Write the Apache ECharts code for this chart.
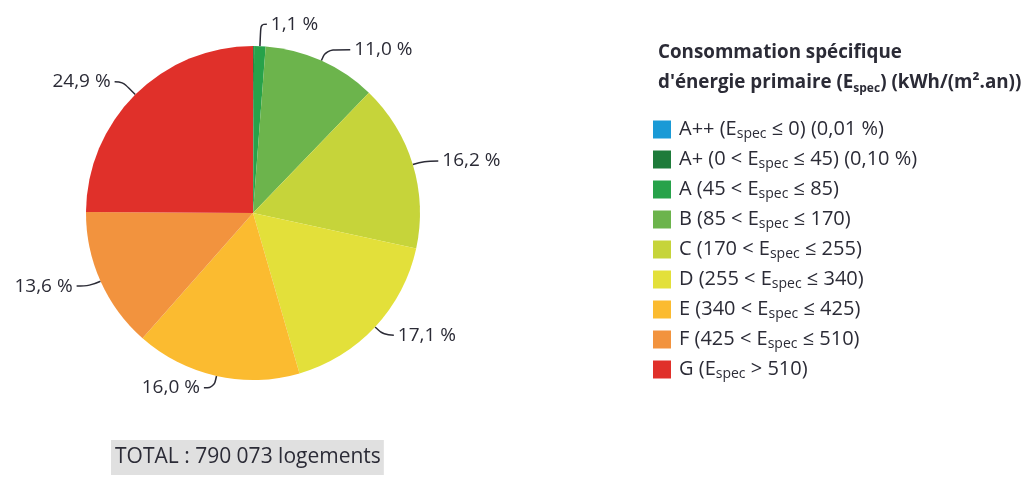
<!DOCTYPE html>
<html>
<head>
<meta charset="utf-8">
<script src="https://cdn.jsdelivr.net/npm/echarts@6/dist/echarts.min.js"></script>
<style>
  html, body { margin: 0; padding: 0; background: #fff; }
  #chart { width: 1024px; height: 492px; }
</style>
</head>
<body>
<div id="chart"></div>
<script>
// classes DPE et part des logements (%)
const categories = ['A++', 'A+', 'A', 'B', 'C', 'D', 'E', 'F', 'G'];
const shares = [0.01, 0.10, 1.1, 11.0, 16.2, 17.1, 16.0, 13.6, 24.9];
const legendLabels = [
  'A++ (E{sub|spec} ≤ 0) (0,01 %)',
  'A+ (0 < E{sub|spec} ≤ 45) (0,10 %)',
  'A (45 < E{sub|spec} ≤ 85)',
  'B (85 < E{sub|spec} ≤ 170)',
  'C (170 < E{sub|spec} ≤ 255)',
  'D (255 < E{sub|spec} ≤ 340)',
  'E (340 < E{sub|spec} ≤ 425)',
  'F (425 < E{sub|spec} ≤ 510)',
  'G (E{sub|spec} > 510)'
];
const colors = ['#1a9ad6', '#1e7b3a', '#27a24a', '#6cb44c', '#c6d43a', '#e3e03a', '#fbbb30', '#f2933e', '#e0302a'];
const totalText = 'TOTAL : 790 073 logements';

// longueurs des traits de rappel [radial, horizontal] par tranche
const leaderLengths = [null, null, [22, 6], [12, 24], [12, 14], [12, 10], [12, 10], [12, 13], [18, 8]];

const font = '"Open Sans", "DejaVu Sans", sans-serif';
const ink = '#2b2b36';

let myChart = echarts.init(document.getElementById('chart'));

const option = {
  animation: false,
  color: colors,
  title: [{
    left: 653,
    top: 33,
    text: 'Consommation spécifique\nd\'énergie primaire (E{sub|spec}) (kWh/(m².an))',
    textStyle: {
      fontFamily: font,
      fontSize: 18.8,
      fontWeight: 'bold',
      color: ink,
      lineHeight: 30,
      rich: {
        sub: { fontFamily: font, fontSize: 12, fontWeight: 'bold', color: ink, padding: [12, 0, 0, 0] }
      }
    }
  }, {
    left: 111,
    top: 440,
    text: totalText,
    backgroundColor: '#e0e0e0',
    padding: [7, 3, 7, 4],
    textStyle: { fontFamily: font, fontSize: 21, fontWeight: 'normal', color: ink }
  }],
  legend: {
    orient: 'vertical',
    left: 648,
    top: 113,
    icon: 'rect',
    itemWidth: 18,
    itemHeight: 18,
    itemGap: 7,
    selectedMode: false,
    data: categories,
    formatter: function (name) {
      return legendLabels[categories.indexOf(name)];
    },
    textStyle: {
      fontFamily: font,
      fontSize: 20,
      lineHeight: 20,
      color: ink,
      padding: [0, 0, 0, 3],
      rich: {
        sub: { fontFamily: font, fontSize: 14, lineHeight: 20, color: ink, padding: [9, 0, 0, 0] }
      }
    }
  },
  series: [{
    type: 'pie',
    center: [253, 213],
    radius: 167,
    startAngle: 90,
    clockwise: true,
    avoidLabelOverlap: false,
    emphasis: { disabled: true },
    itemStyle: { borderWidth: 0 },
    label: {
      fontFamily: font,
      fontSize: 19,
      color: ink,
      distanceToLabelLine: 4,
      formatter: function (p) {
        return p.value.toFixed(1).replace('.', ',') + ' %';
      }
    },
    labelLine: {
      length: 12,
      length2: 10,
      smooth: 0.4,
      lineStyle: { color: ink, width: 1.5 }
    },
    data: categories.map(function (c, i) {
      const d = { name: c, value: shares[i] };
      if (!leaderLengths[i]) {
        d.label = { show: false };
        d.labelLine = { show: false };
      } else {
        d.labelLine = { length: leaderLengths[i][0], length2: leaderLengths[i][1] };
      }
      return d;
    })
  }]
};

myChart.setOption(option);
</script>
</body>
</html>
